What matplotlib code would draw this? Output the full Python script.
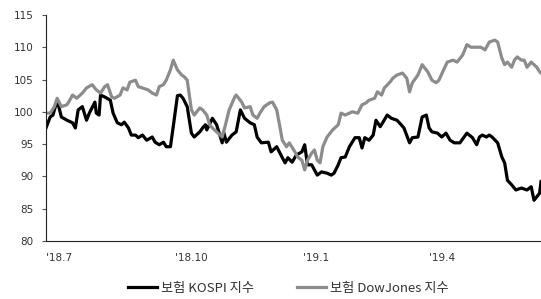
import matplotlib
matplotlib.use("Agg")
import matplotlib.pyplot as plt

plt.rcParams['font.family'] = ['Noto Sans CJK KR', 'DejaVu Sans']

# days since 2018-07-01
kospi_days = [0, 3, 5, 8, 11, 15, 19, 21, 23, 26, 29, 31, 35, 36, 38, 39, 42, 46, 48, 51,
              54, 56, 59, 61, 64, 66, 69, 72, 76, 78, 81, 84, 86, 89, 91, 94, 96, 98, 101, 104,
              106, 110, 112, 114, 115, 119, 122, 126, 127, 129, 133, 136, 139, 142, 146, 149, 151, 154, 159, 161,
              165, 169, 171, 173, 176, 179, 183, 185, 187, 190, 194, 197, 201, 204, 206, 209, 211, 214, 217, 221,
              224, 226, 228, 231, 234, 236, 239, 241, 244, 247, 251, 254, 256, 260, 262, 266, 269, 272, 274, 276,
              280, 283, 286, 289, 292, 296, 299, 301, 305, 308, 310, 312, 315, 317, 319, 323, 326, 328, 330, 333,
              336, 340, 344, 347, 349, 353, 354]
kospi_vals = [97.5, 99.2, 99.5, 101.8, 99.2, 98.7, 98.3, 97.5, 100.3, 100.8, 98.7, 99.8, 101.5, 99.8, 99.5, 102.6, 102.3, 101.8, 99.8, 98.3,
              98.0, 98.4, 97.5, 96.4, 96.4, 96.0, 96.4, 95.6, 96.1, 95.3, 94.9, 95.3, 94.6, 94.6, 97.7, 102.5, 102.6, 102.1, 100.8, 96.7,
              96.1, 96.9, 97.5, 98.0, 97.2, 99.0, 98.0, 95.2, 96.9, 95.3, 96.4, 96.9, 100.3, 99.0, 98.3, 98.0, 96.1, 95.2, 95.3, 93.8,
              94.6, 92.9, 92.1, 92.9, 92.2, 93.3, 93.8, 94.9, 91.8, 91.8, 90.2, 90.7, 90.5, 90.2, 90.5, 91.8, 92.9, 93.0, 94.6, 96.0,
              96.0, 94.4, 96.0, 95.6, 96.4, 98.7, 97.7, 98.4, 99.5, 99.0, 98.7, 98.0, 97.5, 95.2, 96.0, 96.1, 99.2, 99.5, 97.5, 96.9,
              96.7, 96.1, 96.7, 95.6, 95.2, 95.2, 96.1, 96.7, 96.0, 94.9, 96.1, 96.4, 96.1, 96.4, 96.1, 95.2, 93.0, 92.1, 89.4, 88.7,
              87.9, 88.2, 87.9, 88.4, 86.3, 87.4, 89.2]

dow_days = [0, 3, 6, 8, 11, 15, 17, 19, 22, 26, 29, 33, 36, 39, 42, 44, 47, 49, 53, 55,
            58, 60, 64, 66, 69, 73, 76, 79, 81, 84, 86, 89, 91, 94, 97, 99, 101, 104, 106, 110,
            112, 115, 117, 119, 123, 126, 128, 131, 135, 136, 140, 142, 146, 148, 151, 153, 156, 160, 162, 165,
            167, 169, 172, 174, 178, 180, 183, 185, 187, 190, 192, 194, 196, 198, 201, 205, 209, 211, 214, 219,
            223, 226, 229, 231, 235, 237, 240, 242, 246, 248, 251, 255, 258, 260, 262, 266, 269, 273, 276, 279,
            281, 285, 287, 291, 294, 298, 301, 304, 308, 311, 314, 317, 321, 323, 326, 328, 330, 333, 335, 337,
            340, 342, 344, 347, 351, 353, 354]
dow_vals = [99.8, 99.8, 100.8, 102.1, 100.8, 101.1, 101.8, 102.6, 102.1, 102.9, 103.7, 104.2, 103.4, 102.9, 103.9, 104.2, 102.3, 102.1, 102.6, 103.7,
            103.4, 104.6, 104.9, 103.9, 103.7, 103.4, 102.9, 102.6, 103.9, 104.2, 104.9, 106.5, 108.0, 106.5, 105.7, 105.4, 104.9, 100.3, 99.5, 100.6,
            100.3, 99.5, 98.0, 97.5, 96.7, 96.1, 97.7, 100.3, 102.3, 102.6, 101.5, 100.6, 100.8, 99.5, 99.0, 99.8, 100.8, 101.4, 101.5, 100.3,
            98.0, 95.6, 94.6, 95.2, 93.8, 93.0, 92.5, 91.0, 92.5, 93.6, 94.1, 92.5, 92.1, 94.6, 96.1, 97.2, 98.0, 99.8, 99.5, 100.0,
            99.8, 101.1, 101.4, 101.8, 102.1, 103.1, 102.6, 103.7, 104.6, 105.2, 105.7, 106.0, 105.2, 103.1, 104.5, 105.7, 107.3, 106.2, 104.9, 104.5,
            104.9, 106.8, 107.7, 108.0, 107.7, 108.8, 110.4, 110.0, 110.0, 110.0, 109.6, 110.8, 111.1, 110.8, 108.3, 107.3, 107.7, 106.9, 108.0, 108.5,
            108.0, 108.0, 106.9, 107.7, 106.9, 106.2, 106.0]

tick_days = [0, 92, 184, 274]
tick_labels = ["'18.7", "'18.10", "'19.1", "'19.4"]

fig = plt.figure(figsize=(5.41, 2.99), dpi=100)
ax = fig.add_axes([0.085, 0.194, 0.915, 0.756])

l1, = ax.plot(kospi_days, kospi_vals, color='black', lw=2.3, label='보험 KOSPI 지수')
l2, = ax.plot(dow_days, dow_vals, color='#8c8c8c', lw=2.3, label='보험 DowJones 지수')

ax.set_xlim(0, 354)
ax.set_ylim(80, 115)
ax.set_yticks(range(80, 116, 5))
ax.set_xticks(tick_days)
ax.set_xticklabels(tick_labels, ha='left', family='DejaVu Sans')
for lab in ax.get_yticklabels():
    lab.set_family('DejaVu Sans')
ax.tick_params(axis='x', length=0, pad=9, labelsize=7.5, colors='#333333')
ax.tick_params(axis='y', length=3, width=0.8, pad=6, labelsize=7.5, colors='#333333')
ax.tick_params(axis='y', color='#555555')
ax.spines['top'].set_visible(False)
ax.spines['right'].set_visible(False)
ax.spines['left'].set_color('#222222')
ax.spines['bottom'].set_color('#222222')

fig.legend(handles=[l1, l2], loc='center', bbox_to_anchor=(0.533, 0.035), ncol=2,
           frameon=False, fontsize=9.5, handlelength=2.2, handletextpad=0.3, columnspacing=3.2,
           labelcolor='#333333')

fig.savefig('out.png', dpi=100)
